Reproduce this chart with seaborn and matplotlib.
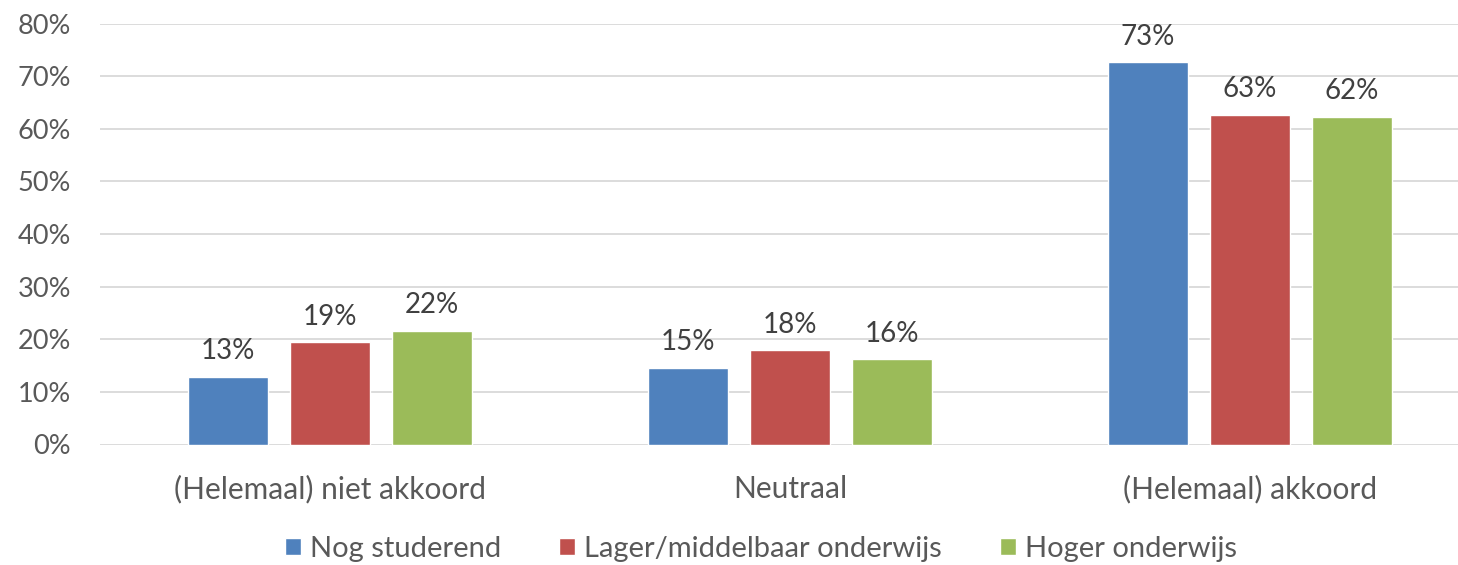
import pandas as pd
import matplotlib.pyplot as plt
import seaborn as sns

# Data (percent)
categories = ['(Helemaal) niet akkoord', 'Neutraal', '(Helemaal) akkoord']
groups = ['Nog studerend', 'Lager/middelbaar onderwijs', 'Hoger onderwijs']
nog_studerend = [12.9, 14.6, 72.6]
lager_middelbaar = [19.4, 17.9, 62.7]
hoger = [21.6, 16.2, 62.3]
colors = ['#4F81BD', '#C0504D', '#9BBB59']

df = pd.DataFrame({
    'Categorie': categories * 3,
    'Groep': [g for g in groups for _ in categories],
    'Waarde': nog_studerend + lager_middelbaar + hoger,
})

sns.set_theme(style='white')
plt.rcParams['font.family'] = ['Lato', 'DejaVu Sans']

fig = plt.figure(figsize=(14.58, 5.65), dpi=100)
ax = fig.add_axes([100 / 1458, 1 - 444.5 / 565, 1358 / 1458, 421 / 565])

sns.barplot(data=df, x='Categorie', y='Waarde', hue='Groep', palette=colors,
            width=0.665, gap=0.22, ax=ax, saturation=1, legend=True)

# Value labels above each bar
for container in ax.containers:
    ax.bar_label(container, labels=[f'{v:.0f}%' for v in container.datavalues],
                 padding=9, fontsize=20, color='#404040')

ax.set_ylim(0, 80)
ax.set_xlim(-0.5, 2.452)
ax.set_yticks(range(0, 81, 10))
ax.set_yticklabels([f'{t}%' for t in range(0, 81, 10)])
ax.yaxis.grid(True, color='#d9d9d9', linewidth=1.3)
ax.set_axisbelow(True)
for s in ax.spines.values():
    s.set_visible(False)
ax.tick_params(axis='y', length=0, pad=21, labelsize=19.5, labelcolor='#595959')
ax.tick_params(axis='x', length=0, pad=22, labelsize=21.5, labelcolor='#595959')
ax.set_xlabel('')
ax.set_ylabel('')

ax.legend(loc='center', bbox_to_anchor=(0.5 - 18 / 1358, (444.5 - 549) / 421), ncol=3,
          frameon=False, fontsize=21, handlelength=0.55, handleheight=0.55,
          handletextpad=0.3, columnspacing=2.0, labelcolor='#595959')

fig.savefig('out.png', dpi=100)
